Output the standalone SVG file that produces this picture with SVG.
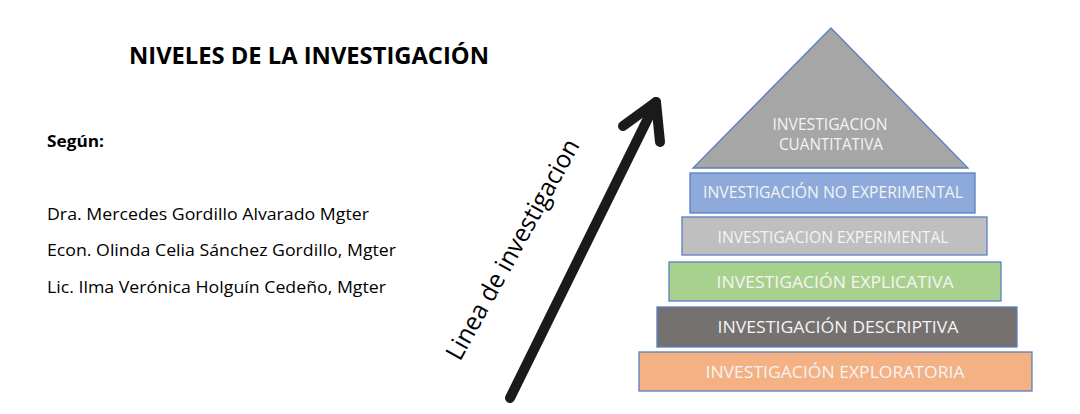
<svg xmlns="http://www.w3.org/2000/svg" width="1080" height="414" viewBox="0 0 1080 414">
<style>
.t{font-family:"Open Sans","Liberation Sans",sans-serif;fill:#000}
.b{font-weight:bold}
.lv{stroke:#5b7ec2;stroke-width:1.3}
.lt{font-family:"Open Sans","Liberation Sans",sans-serif;fill:#f4f4f4;text-anchor:middle;font-size:16px}
</style>
<rect width="1080" height="414" fill="#ffffff"/>
<g id="title"><text class="t b" x="129" y="64" font-size="23" textLength="360" lengthAdjust="spacingAndGlyphs">NIVELES DE LA INVESTIGACIÓN</text></g>
<g id="authors">
<text class="t b" x="47" y="147" font-size="16" textLength="57" lengthAdjust="spacingAndGlyphs">Según:</text>
<text class="t" x="47" y="220" font-size="17" textLength="322" lengthAdjust="spacingAndGlyphs">Dra. Mercedes Gordillo Alvarado Mgter</text>
<text class="t" x="47" y="256" font-size="17" textLength="349" lengthAdjust="spacingAndGlyphs">Econ. Olinda Celia Sánchez Gordillo, Mgter</text>
<text class="t" x="47" y="293" font-size="17" textLength="339" lengthAdjust="spacingAndGlyphs">Lic. Ilma Verónica Holguín Cedeño, Mgter</text>
</g>
<g id="connectors">
<path d="M510,398 L656,102" fill="none" stroke="#1a1a1a" stroke-width="10" stroke-linecap="round"/>
<path d="M623,126 L656,102 L660,142" fill="none" stroke="#1a1a1a" stroke-width="10" stroke-linecap="round" stroke-linejoin="round"/>
<text class="t" transform="translate(460,362) rotate(-61)" font-size="25" font-weight="500" textLength="248" lengthAdjust="spacingAndGlyphs">Linea de investigacion</text>
</g>
<g id="cuantitativa">
<polygon class="lv" points="831,28 968,168 693,168" fill="#a6a6a6"/>
<text class="lt" x="830" y="130" font-size="15" textLength="115" lengthAdjust="spacingAndGlyphs">INVESTIGACION</text>
<text class="lt" x="831" y="150" font-size="15" textLength="104" lengthAdjust="spacingAndGlyphs">CUANTITATIVA</text>
</g>
<g id="no-experimental">
<rect class="lv" x="690" y="173" width="285" height="40" fill="#8eaadb"/>
<text class="lt" x="833" y="198" textLength="260" lengthAdjust="spacingAndGlyphs">INVESTIGACIÓN NO EXPERIMENTAL</text>
</g>
<g id="experimental">
<rect class="lv" x="682" y="217" width="305" height="38" fill="#bfbfbf"/>
<text class="lt" x="833" y="243" textLength="231" lengthAdjust="spacingAndGlyphs">INVESTIGACION EXPERIMENTAL</text>
</g>
<g id="explicativa">
<rect class="lv" x="669" y="262" width="332" height="39" fill="#a9d18e"/>
<text class="lt" x="835" y="288" font-size="17.5" textLength="237" lengthAdjust="spacingAndGlyphs">INVESTIGACIÓN EXPLICATIVA</text>
</g>
<g id="descriptiva">
<rect class="lv" x="657" y="307" width="360" height="40" fill="#757171"/>
<text class="lt" x="838" y="333" font-size="17.5" textLength="241" lengthAdjust="spacingAndGlyphs">INVESTIGACIÓN DESCRIPTIVA</text>
</g>
<g id="exploratoria">
<rect class="lv" x="639" y="352" width="393" height="39" fill="#f4b183"/>
<text class="lt" x="835" y="378" font-size="17.5" textLength="259" lengthAdjust="spacingAndGlyphs">INVESTIGACIÓN EXPLORATORIA</text>
</g>
</svg>
